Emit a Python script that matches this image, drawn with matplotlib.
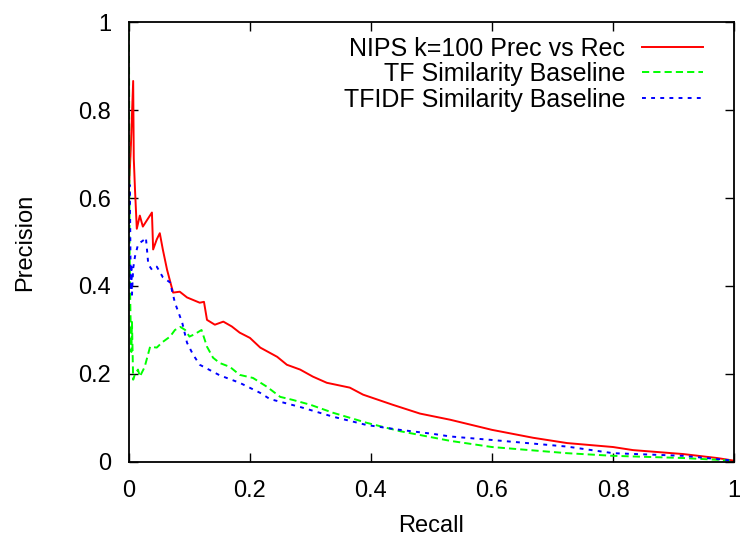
import matplotlib
matplotlib.use('Agg')
import matplotlib.pyplot as plt
from matplotlib.ticker import FormatStrFormatter

plt.rcParams.update({'font.size': 17})
plt.rcParams['font.family'] = ['Liberation Sans', 'DejaVu Sans']

# NIPS k=100 precision vs recall
nips_rec = [0.0, 0.003, 0.007, 0.008, 0.010, 0.013, 0.018, 0.023, 0.030, 0.038, 0.040, 0.046,
            0.051, 0.056, 0.063, 0.073, 0.084, 0.096, 0.117, 0.124, 0.129, 0.142, 0.156, 0.170,
            0.183, 0.200, 0.217, 0.245, 0.261, 0.283, 0.304, 0.327, 0.365, 0.387, 0.436, 0.481,
            0.531, 0.600, 0.668, 0.724, 0.800, 0.833, 0.916, 0.972, 1.0]
nips_prec = [0.62, 0.71, 0.866, 0.69, 0.62, 0.53, 0.56, 0.535, 0.55, 0.567, 0.483, 0.506,
             0.52, 0.483, 0.437, 0.385, 0.387, 0.374, 0.362, 0.364, 0.323, 0.312, 0.319, 0.308,
             0.294, 0.282, 0.26, 0.239, 0.221, 0.21, 0.194, 0.18, 0.169, 0.153, 0.13, 0.11,
             0.096, 0.073, 0.055, 0.043, 0.034, 0.027, 0.018, 0.009, 0.003]

# TF similarity baseline
tf_rec = [0.0, 0.0005, 0.001, 0.002, 0.003, 0.004, 0.005, 0.007, 0.010, 0.015, 0.018, 0.026,
          0.035, 0.046, 0.055, 0.068, 0.076, 0.085, 0.093, 0.100, 0.108, 0.120, 0.129, 0.139,
          0.150, 0.167, 0.183, 0.205, 0.228, 0.250, 0.271, 0.300, 0.337, 0.393, 0.448, 0.531,
          0.600, 0.724, 0.800, 0.916, 1.0]
tf_prec = [1.0, 0.75, 0.5, 0.38, 0.30, 0.25, 0.32, 0.187, 0.20, 0.21, 0.194, 0.216,
           0.262, 0.26, 0.272, 0.285, 0.30, 0.307, 0.30, 0.285, 0.29, 0.30, 0.262, 0.237,
           0.225, 0.216, 0.198, 0.191, 0.171, 0.148, 0.141, 0.13, 0.112, 0.089, 0.07, 0.048,
           0.034, 0.02, 0.014, 0.009, 0.003]

# TFIDF similarity baseline
tfidf_rec = [0.0, 0.001, 0.002, 0.003, 0.004, 0.005, 0.007, 0.010, 0.015, 0.020, 0.025, 0.028,
             0.030, 0.032, 0.038, 0.046, 0.056, 0.068, 0.076, 0.088, 0.096, 0.106, 0.117, 0.150,
             0.183, 0.217, 0.233, 0.283, 0.337, 0.393, 0.448, 0.502, 0.531, 0.600, 0.724, 0.800,
             0.916, 1.0]
tfidf_prec = [0.5, 0.63, 0.55, 0.39, 0.45, 0.38, 0.44, 0.467, 0.494, 0.50, 0.505, 0.51,
              0.48, 0.449, 0.437, 0.444, 0.42, 0.408, 0.362, 0.317, 0.271, 0.244, 0.221, 0.197,
              0.18, 0.157, 0.143, 0.125, 0.103, 0.084, 0.073, 0.064, 0.058, 0.05, 0.035, 0.02,
              0.014, 0.003]

fig = plt.figure(figsize=(7.41, 5.37), dpi=100)
ax = fig.add_axes([0.174, 0.1397, 0.8166, 0.8193])

ax.plot(nips_rec, nips_prec, '-', color='#ff0000', lw=1.4, label='NIPS k=100 Prec vs Rec')
ax.plot(tf_rec, tf_prec, '--', color='#00ff00', lw=1.4, dashes=(3.7, 2.1), label='TF Similarity Baseline')
ax.plot(tfidf_rec, tfidf_prec, ':', color='#0000ff', lw=1.4, dashes=(2.0, 2.7), label='TFIDF Similarity Baseline')

ax.set_xlim(0, 1)
ax.set_ylim(0, 1)
ax.set_xticks([0, 0.2, 0.4, 0.6, 0.8, 1])
ax.set_yticks([0, 0.2, 0.4, 0.6, 0.8, 1])
ax.xaxis.set_major_formatter(FormatStrFormatter('%g'))
ax.yaxis.set_major_formatter(FormatStrFormatter('%g'))
ax.tick_params(direction='in', length=6.5, width=1, top=True, right=True, pad=13)
for s in ax.spines.values():
    s.set_linewidth(1.3)

ax.set_xlabel('Recall', labelpad=9)
ax.set_ylabel('Precision', labelpad=30)

ax.legend(loc='upper right', bbox_to_anchor=(0.949, 0.967), frameon=False, markerfirst=False,
          fontsize=18, handlelength=2.44, handletextpad=0.68, labelspacing=0.06,
          borderpad=0, borderaxespad=0)

fig.savefig('out.png', dpi=100)
